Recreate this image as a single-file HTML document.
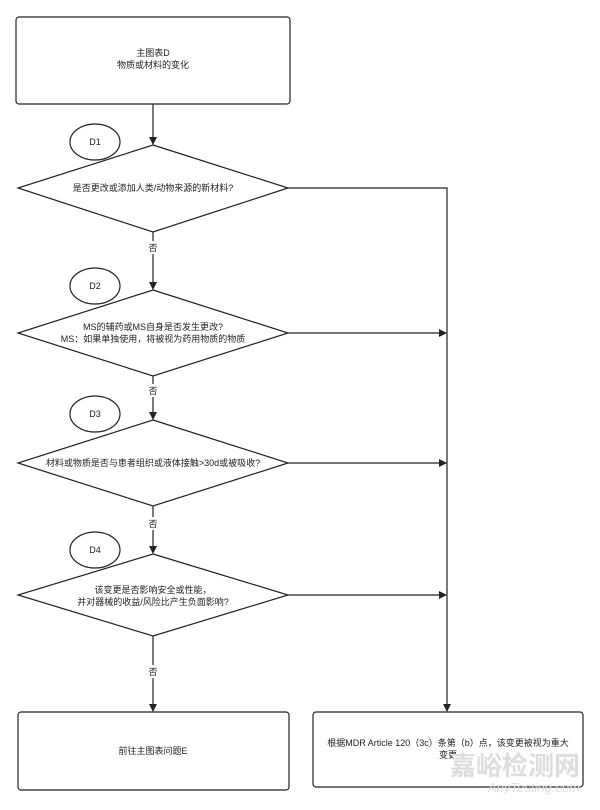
<!DOCTYPE html><html><head><meta charset="utf-8"><style>body{margin:0;background:#fff}svg text{font-family:"Liberation Sans","Noto Sans CJK SC",sans-serif;font-size:9px;fill:#222}</style></head><body>
<svg width="600" height="805" viewBox="0 0 600 805">
<defs><marker id="a" markerWidth="8" markerHeight="8" refX="7" refY="4" orient="auto" markerUnits="userSpaceOnUse"><path d="M0,0L8,4L0,8z" fill="#222"/></marker></defs>
<g stroke="#222" stroke-width="1.2" fill="#fff">
<rect x="16" y="17" width="274" height="87" rx="3"/>
<polygon points="153,145 288,188 153,232 18,188"/>
<polygon points="153,290 288,333 153,376 18,333"/>
<polygon points="153,420 288,463 153,506 18,463"/>
<polygon points="153,554 288,595 153,636 18,595"/>
<ellipse cx="95" cy="142" rx="25" ry="18"/>
<ellipse cx="95" cy="286" rx="25" ry="18"/>
<ellipse cx="95" cy="414" rx="25" ry="18"/>
<ellipse cx="95" cy="550" rx="25" ry="18"/>
<rect x="18" y="712" width="271" height="78" rx="3"/>
<rect x="313" y="712" width="270" height="75" rx="3"/>
<g fill="none">
<line x1="153" y1="104" x2="153" y2="144" marker-end="url(#a)"/>
<line x1="153" y1="232" x2="153" y2="289" marker-end="url(#a)"/>
<line x1="153" y1="376" x2="153" y2="419" marker-end="url(#a)"/>
<line x1="153" y1="506" x2="153" y2="553" marker-end="url(#a)"/>
<line x1="153" y1="636" x2="153" y2="711" marker-end="url(#a)"/>
<polyline points="288,188 447,188 447,711" marker-end="url(#a)"/>
<line x1="288" y1="333" x2="446" y2="333" marker-end="url(#a)"/>
<line x1="288" y1="463" x2="446" y2="463" marker-end="url(#a)"/>
<line x1="288" y1="595" x2="446" y2="595" marker-end="url(#a)"/>
</g></g>
<g text-anchor="middle">
<rect x="146" y="241" width="14" height="13" fill="#fff"/><text x="153" y="251">否</text>
<rect x="146" y="384" width="14" height="13" fill="#fff"/><text x="153" y="394">否</text>
<rect x="146" y="517" width="14" height="13" fill="#fff"/><text x="153" y="527">否</text>
<rect x="146" y="665" width="14" height="13" fill="#fff"/><text x="153" y="675">否</text>
<text x="153" y="56">主图表D</text><text x="153" y="68">物质或材料的变化</text>
<text x="95" y="145">D1</text><text x="95" y="289">D2</text><text x="95" y="417">D3</text><text x="95" y="553">D4</text>
<text x="153" y="191">是否更改或添加人类/动物来源的新材料?</text>
<text x="153" y="330">MS的辅药或MS自身是否发生更改?</text>
<text x="153" y="342">MS：如果单独使用，将被视为药用物质的物质</text>
<text x="153" y="466">材料或物质是否与患者组织或液体接触&gt;30d或被吸收?</text>
<text x="153" y="593">该变更是否影响安全或性能，</text>
<text x="153" y="605">并对器械的收益/风险比产生负面影响?</text>
<text x="153" y="754">前往主图表问题E</text>
<text x="448" y="746">根据MDR Article 120（3c）条第（b）点，该变更被视为重大</text>
<text x="448" y="758">变更</text>
</g>
<text x="580" y="775" text-anchor="end" style="font-size:26px;fill:#ddd;font-weight:bold">嘉峪检测网</text>
<text x="580" y="792" text-anchor="end" style="font-size:13px;fill:#ddd;font-style:italic">AnyTesting.com</text>
</svg></body></html>
